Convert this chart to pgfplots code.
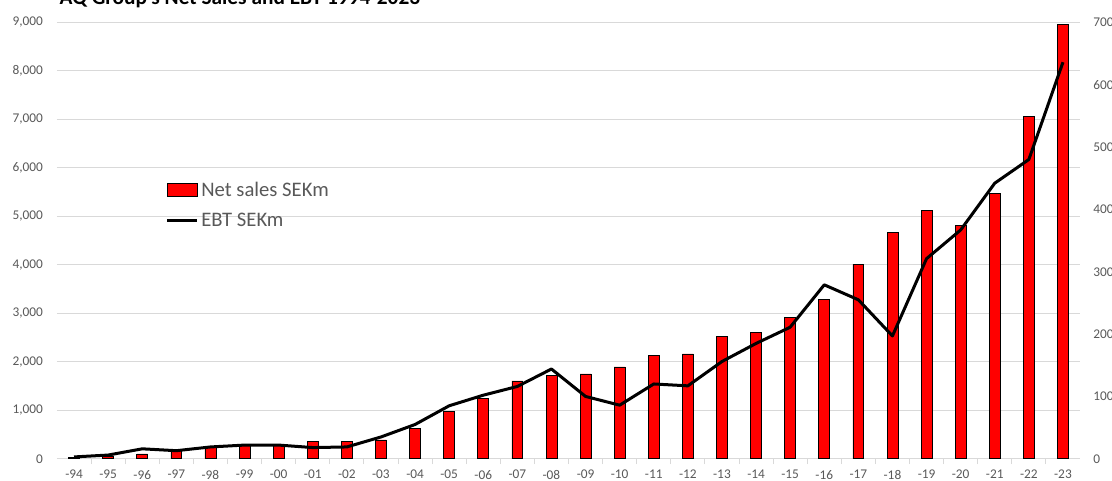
\documentclass[border=0pt]{standalone}
\usepackage{fontspec}
\setmainfont{Carlito}
\usepackage{pgfplots}
\pgfplotsset{compat=1.18}
\definecolor{gridgray}{HTML}{D9D9D9}
\definecolor{labelgray}{HTML}{595959}
\pgfplotsset{
  barlegend/.style={legend image code/.code={\draw[##1] (0pt,-4.875pt) rectangle (22.5pt,4.875pt);}},
  linelegend/.style={legend image code/.code={\draw[##1] (0pt,0pt) -- (22.5pt,0pt);}},
}
\begin{document}
\begin{tikzpicture}[x=0.75pt,y=0.75pt]
\pgfplotsset{
  common/.style={
    scale only axis, width=767.25pt, height=327.375pt,
    xmin=-0.5, xmax=29.5, ymin=0,
    at={(0,0)}, anchor=south west,
    /pgf/number format/assume math mode=true,
    tick label style={font=\fontsize{10}{12}\selectfont, text=labelgray},
    major tick length=0pt,
  }
}
\begin{axis}[common, ymax=9000,
  axis x line*=bottom, axis y line*=left,
  y axis line style={draw=none},
  x axis line style={draw=gridgray, line width=0.75pt},
  ytick={0,1000,...,9000},
  scaled y ticks=false,
  yticklabel style={/pgf/number format/1000 sep={,}, xshift=-7pt},
  ymajorgrids, major grid style={gridgray, line width=0.75pt},
  xtick={0,...,29},
  xticklabels={-94,-95,-96,-97,-98,-99,-00,-01,-02,-03,-04,-05,-06,-07,-08,-09,-10,-11,-12,-13,-14,-15,-16,-17,-18,-19,-20,-21,-22,-23},
  xticklabel style={yshift=-5pt},
  minor x tick num=1, tick align=outside,
  minor tick length=4pt, minor tick style={gridgray, line width=0.75pt},
]
\addplot[ybar, bar width=0.32, fill=red, draw=black, line width=0.5pt] coordinates {
(0,30) (1,60) (2,100) (3,170) (4,250) (5,290) (6,290) (7,350) (8,350) (9,390)
(10,635) (11,975) (12,1240) (13,1605) (14,1715) (15,1750) (16,1895) (17,2136) (18,2163) (19,2528)
(20,2603) (21,2912) (22,3284) (23,4014) (24,4667) (25,5115) (26,4811) (27,5480) (28,7055) (29,8960)
};
\end{axis}
\begin{axis}[common, ymax=700,
  axis x line=none, axis y line*=right,
  y axis line style={draw=none},
  ytick={0,100,...,700},
  yticklabel style={xshift=6.5pt},
  legend style={draw=none, fill=none, at={(0.106,0.641)}, anchor=north west,
    font=\fontsize{15.5}{18}\selectfont, text=labelgray, row sep=7pt, inner sep=0pt},
  legend cell align=left,
]
\addlegendimage{fill=red, draw=black, line width=0.5pt, barlegend}
\addlegendentry{Net sales SEKm}
\addplot[black, line width=2.25pt, line join=round, linelegend] coordinates {
(0,3) (1,6) (2,16) (3,13) (4,19) (5,22) (6,22) (7,18) (8,19) (9,35)
(10,55) (11,85) (12,102) (13,116) (14,144) (15,100) (16,86) (17,120) (18,117) (19,156)
(20,185) (21,211) (22,279) (23,255) (24,197) (25,321) (26,367) (27,442) (28,480) (29,636)
};
\addlegendentry{EBT SEKm}
\end{axis}
\node[anchor=base west, font=\bfseries\fontsize{16}{18}\selectfont] at (-2,453.8) {AQ Group's Net Sales and EBT 1994-2023};
\pgfresetboundingbox
\useasboundingbox (-57,-22.2) rectangle (1055,458.8);
\end{tikzpicture}
\end{document}
